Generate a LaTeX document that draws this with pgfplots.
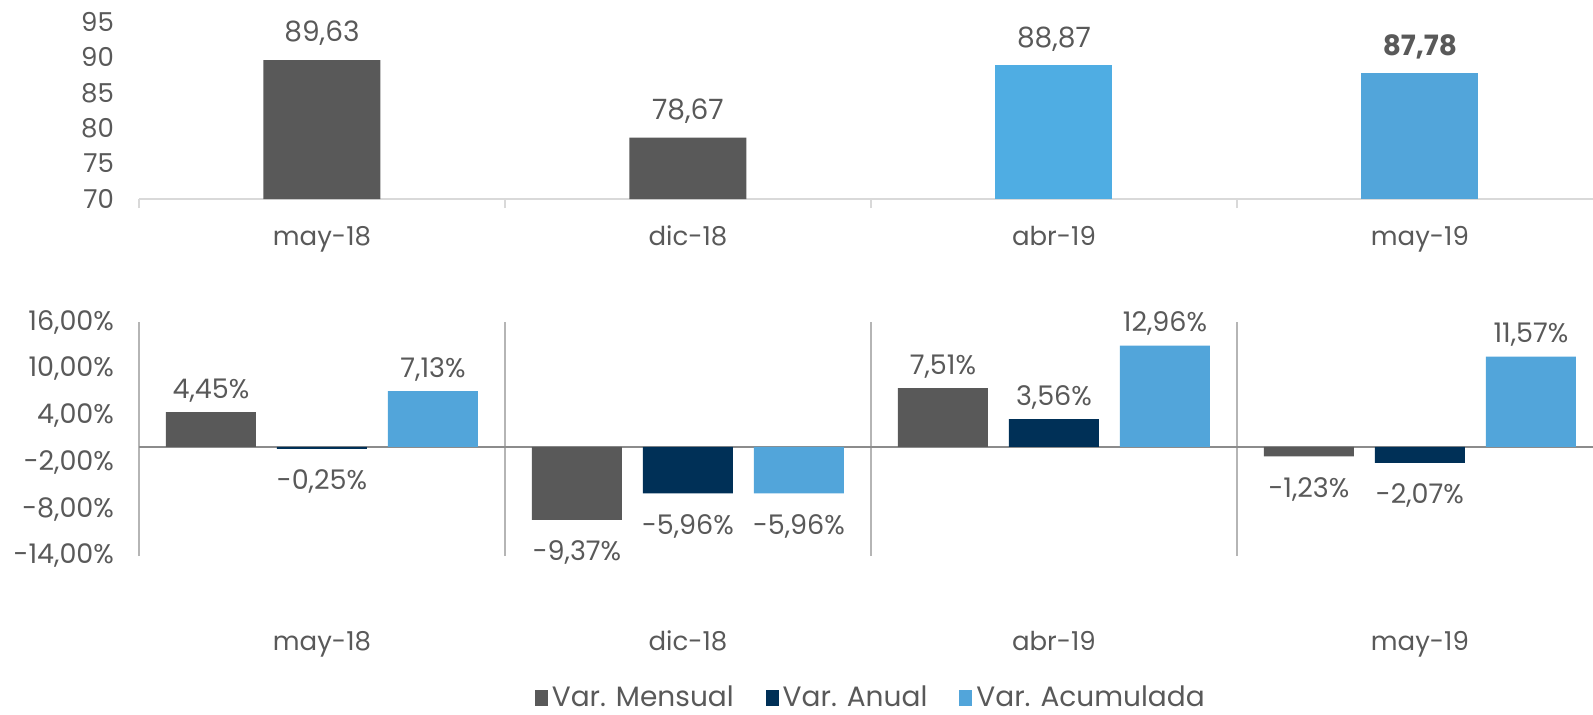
\documentclass[border=0pt]{standalone}
\usepackage{fontspec}
\setmainfont{Poppins}
\usepackage{pgfplots}
\usepackage{pgfplotstable}
\pgfplotsset{compat=1.18}
\definecolor{cgray}{HTML}{595959}
\definecolor{cnavy}{HTML}{003057}
\definecolor{cblue}{HTML}{52A5DA}
\definecolor{cblue2}{HTML}{4FADE3}
\definecolor{txt}{HTML}{595959}
\definecolor{axg}{HTML}{D9D9D9}
\definecolor{sepg}{HTML}{B5B5B5}
\definecolor{zerog}{HTML}{8C8C8C}

\pgfplotstableread{
x y off
0 4.45 1.5
1 -9.37 -7
2 7.51 1.5
3 -1.23 -7
}\mensual
\pgfplotstableread{
x y off
0 -0.25 -7
1 -5.96 -7
2 3.56 1.5
3 -2.07 -7
}\anual
\pgfplotstableread{
x y off
0 7.13 1.5
1 -5.96 -7
2 12.96 1.5
3 11.57 1.5
}\acumulada

\begin{document}
\begin{tikzpicture}[x=1pt,y=1pt]
\path[use as bounding box] (0,0) rectangle (796.5,357);
% ---------- top chart ----------
\begin{axis}[
  at={(69.5pt,257.5pt)}, anchor=south west, scale only axis,
  width=727pt, height=88.5pt,
  xmin=-0.5, xmax=3.473, ymin=70, ymax=95,
  ytick={70,75,80,85,90,95},
  xtick={0,1,2,3}, xticklabels={may-18,dic-18,abr-19,may-19},
  separate axis lines,
  axis x line*=bottom, axis y line*=left,
  axis line style={-},
  x axis line style={axg, line width=0.8pt},
  y axis line style={draw=none},
  major tick length=0pt,
  extra x ticks={-0.5,0.5,1.5,2.5}, extra x tick labels={},
  extra x tick style={major tick length=4.5pt, tick align=outside, tick style={axg, line width=0.8pt}},
  /pgf/number format/assume math mode=true,
  yticklabel style={font=\fontsize{13}{15}\selectfont, text=txt, xshift=-9pt},
  xticklabel style={font=\fontsize{13}{15}\selectfont, text=txt, yshift=-10pt},
  ybar, bar width=58.5pt,
  clip=false,
  nodes near coords={\pgfmathprintnumber[fixed,fixed zerofill,precision=2,use comma,assume math mode=true]{\pgfplotspointmeta}},
  every node near coord/.append style={font=\fontsize{14}{16}\selectfont, text=txt, yshift=3.5pt},
]
\addplot[fill=cgray, draw=none, bar shift=0pt] coordinates {(0,89.63) (1,78.67)};
\addplot[fill=cblue2, draw=none, bar shift=0pt] coordinates {(2,88.87)};
\addplot[fill=cblue, draw=none, bar shift=0pt,
  every node near coord/.append style={font=\fontsize{14}{16}\selectfont\bfseries}] coordinates {(3,87.78)};
\end{axis}
% ---------- bottom chart ----------
\begin{axis}[
  at={(69.5pt,79pt)}, anchor=south west, scale only axis,
  width=727pt, height=117pt,
  xmin=-0.5, xmax=3.473, ymin=-14, ymax=16,
  ytick={-14,-8,-2,4,10,16},
  yticklabel={\pgfmathprintnumber[fixed,fixed zerofill,precision=2,use comma,assume math mode=true]{\tick}\%},
  xtick={0,1,2,3}, xticklabels={may-18,dic-18,abr-19,may-19},
  separate axis lines,
  axis x line*=bottom, axis y line*=left,
  axis line style={-},
  x axis line style={draw=none},
  y axis line style={sepg, line width=0.8pt},
  major tick length=0pt,
  extra x ticks={0.5,1.5,2.5}, extra x tick labels={},
  extra x tick style={grid=major, major grid style={sepg, line width=0.8pt}},
  extra y ticks={0}, extra y tick labels={},
  extra y tick style={grid=major, major grid style={zerog, line width=0.9pt}},
  /pgf/number format/assume math mode=true,
  yticklabel style={font=\fontsize{13.5}{15}\selectfont, text=txt, xshift=-9pt},
  xticklabel style={font=\fontsize{13}{15}\selectfont, text=txt, yshift=-34pt},
  ybar=10.5pt, bar width=45pt,
  clip=false,
  visualization depends on={\thisrow{off} \as \myoff},
  nodes near coords={\pgfmathprintnumber[fixed,fixed zerofill,precision=2,use comma,assume math mode=true]{\pgfplotspointmeta}\%},
  every node near coord/.append style={font=\fontsize{13.5}{15}\selectfont, text=txt, yshift=\myoff pt},
  legend columns=3,
  legend style={draw=none, fill=none, at={(0.504,-0.607)}, anchor=center,
    inner sep=0pt, nodes={inner xsep=2pt, inner ysep=1pt},
    font=\fontsize{14}{16}\selectfont, text=txt,
    /tikz/every even column/.append style={column sep=14pt}},
  legend image code/.code={\fill[#1] (0pt,-4pt) rectangle (6.5pt,4pt);},
]
\addplot[fill=cgray, draw=none] table[x=x,y=y] {\mensual};
\addplot[fill=cnavy, draw=none] table[x=x,y=y] {\anual};
\addplot[fill=cblue, draw=none] table[x=x,y=y] {\acumulada};
\legend{Var. Mensual, Var. Anual, Var. Acumulada}
\end{axis}
\end{tikzpicture}
\end{document}
